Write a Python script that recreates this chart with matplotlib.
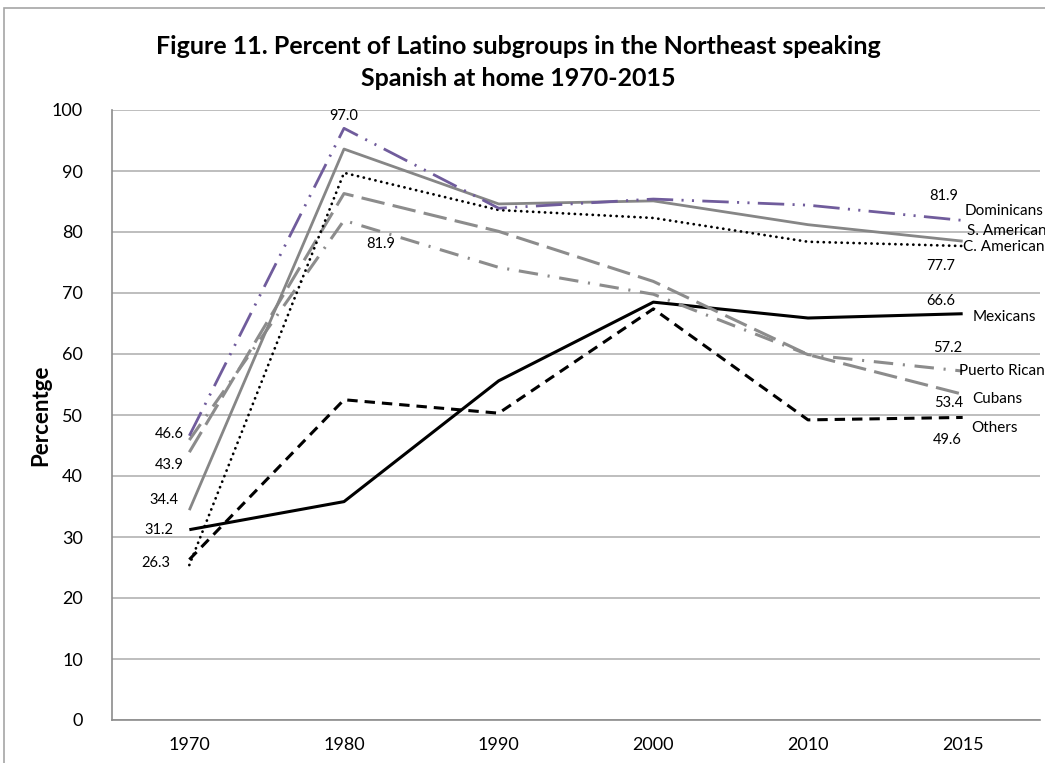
import matplotlib
matplotlib.use("Agg")
import matplotlib.pyplot as plt
from matplotlib.patches import Rectangle

plt.rcParams['font.family'] = ['Lato', 'DejaVu Sans']
plt.rcParams['lines.scale_dashes'] = False

years = ['1970', '1980', '1990', '2000', '2010', '2015']
series_names = ['Dominicans', 'S. American', 'C. American', 'Mexicans',
                'Puerto Rican', 'Cubans', 'Others']
dominicans = [46.6, 97.0, 83.9, 85.4, 84.4, 81.9]
s_american = [34.4, 93.6, 84.6, 85.1, 81.2, 78.5]
c_american = [25.4, 89.7, 83.6, 82.3, 78.4, 77.7]
mexicans = [31.2, 35.8, 55.6, 68.5, 65.9, 66.6]
puerto_rican = [45.9, 81.9, 74.2, 69.8, 59.9, 57.2]
cubans = [43.9, 86.3, 80.1, 71.9, 59.9, 53.4]
others = [26.3, 52.5, 50.3, 67.4, 49.2, 49.6]

W, H = 1045, 763
fig = plt.figure(figsize=(W / 100, H / 100), dpi=100)
ax = fig.add_axes([112 / W, 1 - 720 / H, (1040 - 112) / W, (720 - 110) / H])

x = list(range(len(years)))

styles = {
    'Dominicans': dict(color='#705c9c', lw=2.0, dashes=(19, 6, 1.5, 6, 1.5, 6)),
    'S. American': dict(color='#868686', lw=2.0, ls='-'),
    'C. American': dict(color='#000000', lw=2.0, dashes=(0.1, 4.2), dash_capstyle='round'),
    'Mexicans': dict(color='#000000', lw=2.2, ls='-'),
    'Puerto Rican': dict(color='#8c8c8c', lw=2.2, dashes=(14, 7, 1.5, 7)),
    'Cubans': dict(color='#8c8c8c', lw=2.2, dashes=(17, 6)),
    'Others': dict(color='#000000', lw=2.2, dashes=(7.5, 5)),
}
data = {
    'Dominicans': dominicans, 'S. American': s_american, 'C. American': c_american,
    'Mexicans': mexicans, 'Puerto Rican': puerto_rican, 'Cubans': cubans, 'Others': others,
}
order = ['Others', 'Mexicans', 'Cubans', 'Puerto Rican', 'C. American', 'S. American', 'Dominicans']
for name in order:
    st = dict(styles[name])
    ax.plot(x, data[name], solid_capstyle='butt', **st)

ax.set_xlim(-0.5, 5.5)
ax.set_ylim(0, 100)
ax.set_yticks(range(0, 101, 10))
ax.set_xticks(x)
ax.set_xticklabels(years)
ax.tick_params(axis='both', length=0, labelsize=13, colors='#000000')
ax.tick_params(axis='x', pad=12)
ax.tick_params(axis='y', pad=21)
ax.grid(axis='y', color='#b3b3b3', lw=1.2)
ax.set_axisbelow(True)
for s in ['top', 'right']:
    ax.spines[s].set_visible(False)
for s in ['left', 'bottom']:
    ax.spines[s].set_color('#8c8c8c')
    ax.spines[s].set_linewidth(1.2)

ax.set_ylabel('Percentge', fontsize=16, fontweight='bold')
ax.yaxis.set_label_coords((51 - 112) / (1040 - 112), 0.5)

fig.text(518 / W, 1 - 46 / H, 'Figure 11. Percent of Latino subgroups in the Northeast speaking',
         ha='center', va='center', fontsize=18, fontweight='bold')
fig.text(518 / W, 1 - 78 / H, 'Spanish at home 1970-2015',
         ha='center', va='center', fontsize=18, fontweight='bold')

# Data labels (offsets in pixels)
def lab(name, i, dx, dy, ha='center'):
    v = data[name][i]
    ax.annotate(f'{v:.1f}', (x[i], v), xytext=(dx, dy), textcoords='offset pixels',
                ha=ha, va='center', fontsize=10.5)

lab('Dominicans', 0, -6, 2, 'right')
lab('Cubans', 0, -6, -13, 'right')
lab('S. American', 0, -11, 10, 'right')
lab('Mexicans', 0, -16, 0, 'right')
lab('Others', 0, -19, -3, 'right')
lab('Dominicans', 1, 0, 12)
lab('Puerto Rican', 1, 37, -24)
lab('Dominicans', 5, -19, 24)
lab('C. American', 5, -22, -20)
lab('Mexicans', 5, -22, 13)
lab('Puerto Rican', 5, -15, 23)
lab('Cubans', 5, -14, -9)
lab('Others', 5, -15, -23)

# Series names at line ends
name_offsets = {
    'Dominicans': (2, 9), 'S. American': (4, 10), 'C. American': (0, -1),
    'Mexicans': (10, -3), 'Puerto Rican': (-4, 0), 'Cubans': (10, -5), 'Others': (9, -11),
}
for name, (dx, dy) in name_offsets.items():
    ax.annotate(name, (x[-1], data[name][-1]), xytext=(dx, dy), textcoords='offset pixels',
                ha='left', va='center', fontsize=11, annotation_clip=False)

fig.patches.append(Rectangle((4 / W, -0.05), 1.2, 1 + 0.05 - 8 / H, transform=fig.transFigure,
                             fill=False, edgecolor='#a6a6a6', lw=1.2))

fig.savefig('out.png', dpi=100)
